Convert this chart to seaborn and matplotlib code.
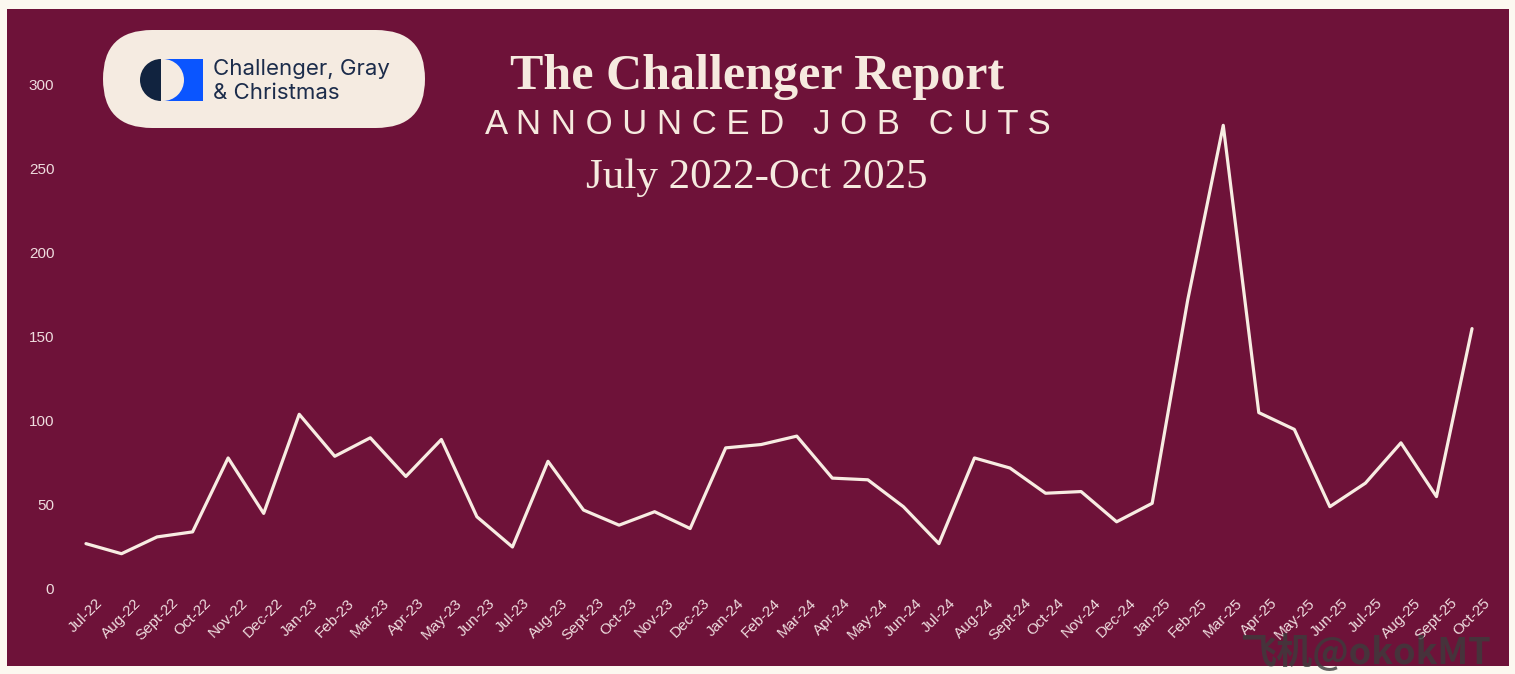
import matplotlib
matplotlib.use("Agg")
import matplotlib.pyplot as plt
import matplotlib.transforms as mtransforms
from matplotlib.patches import Rectangle, FancyBboxPatch, Wedge
import seaborn as sns

# announced job cuts, thousands
months = ["Jul-22", "Aug-22", "Sept-22", "Oct-22", "Nov-22", "Dec-22",
          "Jan-23", "Feb-23", "Mar-23", "Apr-23", "May-23", "Jun-23",
          "Jul-23", "Aug-23", "Sept-23", "Oct-23", "Nov-23", "Dec-23",
          "Jan-24", "Feb-24", "Mar-24", "Apr-24", "May-24", "Jun-24",
          "Jul-24", "Aug-24", "Sept-24", "Oct-24", "Nov-24", "Dec-24",
          "Jan-25", "Feb-25", "Mar-25", "Apr-25", "May-25", "Jun-25",
          "Jul-25", "Aug-25", "Sept-25", "Oct-25"]
job_cuts = [27, 21, 31, 34, 78, 45,
            104, 79, 90, 67, 89, 43,
            25, 76, 47, 38, 46, 36,
            84, 86, 91, 66, 65, 49,
            27, 78, 72, 57, 58, 40,
            51, 172, 276, 105, 95, 49,
            63, 87, 55, 155]
y_ticks = [0, 50, 100, 150, 200, 250, 300]

MAROON = "#6e1239"
CREAM = "#fcf8f0"
LINE = "#f8ece2"
TICK = "#eedcde"
NAVY = "#11233f"

sns.set_style("white")
plt.rcParams["font.family"] = ["DejaVu Sans"]

W, H = 1515, 674
fig = plt.figure(figsize=(W / 100, H / 100), dpi=100, facecolor=CREAM)
px = mtransforms.IdentityTransform()

# maroon panel
fig.patches.append(Rectangle((7, H - 666), 1502, 657, transform=px,
                             facecolor=MAROON, edgecolor="none", zorder=0))

ax = fig.add_axes([68.2 / W, (H - 589) / H, 1421.6 / W, 330 * 1.68 / H])
ax.set_zorder(1)
ax.patch.set_alpha(0)
sns.lineplot(x=list(range(len(months))), y=job_cuts, ax=ax, color=LINE,
             linewidth=2.3, solid_joinstyle="round", solid_capstyle="round")
ax.set_xlim(-0.5, len(months) - 0.5)
ax.set_ylim(0, 330)
ax.set_yticks(y_ticks)
ax.set_yticklabels([str(v) for v in y_ticks], color=TICK, fontsize=11,
                   family="Liberation Sans")
ax.set_xticks(range(len(months)))
ax.set_xticklabels(months, rotation=45, color=TICK, fontsize=11,
                   family="Liberation Sans")
offset = mtransforms.ScaledTranslation(-8 / 100, 0, fig.dpi_scale_trans)
for lbl in ax.get_xticklabels():
    lbl.set_transform(lbl.get_transform() + offset)
ax.tick_params(axis="y", length=0, pad=10)
ax.tick_params(axis="x", length=0, pad=5)
for s in ax.spines.values():
    s.set_visible(False)
ax.set_xlabel("")
ax.set_ylabel("")

# logo pill
fig.patches.append(FancyBboxPatch((103, H - 128), 322, 98, transform=px,
                                  boxstyle="round,pad=0,rounding_size=49",
                                  facecolor="#f5ebe1", edgecolor="none", zorder=2))
cx, cy, r = 162, H - 80, 21
fig.patches.append(Wedge((cx - 1, cy), r, 90, 270, transform=px,
                         facecolor=NAVY, edgecolor="none", zorder=3))
fig.patches.append(Rectangle((163, cy - r), 40, 2 * r, transform=px,
                             facecolor="#0a55ff", edgecolor="none", zorder=3))
fig.patches.append(Wedge((cx + 1, cy), r, -90, 90, transform=px,
                         facecolor="#f5ebe1", edgecolor="none", zorder=4))
fig.text(213 / W, 1 - 69 / H, "Challenger, Gray", color="#1c2c4b",
         fontsize=16, family="Inter", va="center", ha="left", zorder=5)
fig.text(213 / W, 1 - 93 / H, "& Christmas", color="#1c2c4b",
         fontsize=16, family="Inter", va="center", ha="left", zorder=5)

# titles
fig.text(757 / W, 1 - 77 / H, "The Challenger Report", color="#f6eadf",
         fontsize=36, fontweight="bold", family="Liberation Serif",
         ha="center", va="center")
fig.text(768 / W, 1 - 124 / H, "A N N O U N C E D   J O B   C U T S",
         color="#f6eadf", fontsize=25, family="Liberation Sans",
         ha="center", va="center")
fig.text(757 / W, 1 - 178 / H, "July 2022-Oct 2025", color="#f6eadf",
         fontsize=31, family="Liberation Serif", ha="center", va="center")

# watermark
fig.text(1240 / W, 2 / H, "飞机@okokMT", color="#3c3c3c", alpha=0.8,
         fontsize=26, fontweight="bold",
         family=["Noto Sans CJK SC", "DejaVu Sans"], ha="left", va="bottom",
         zorder=10)

fig.savefig("out.png", dpi=100, facecolor=CREAM)
